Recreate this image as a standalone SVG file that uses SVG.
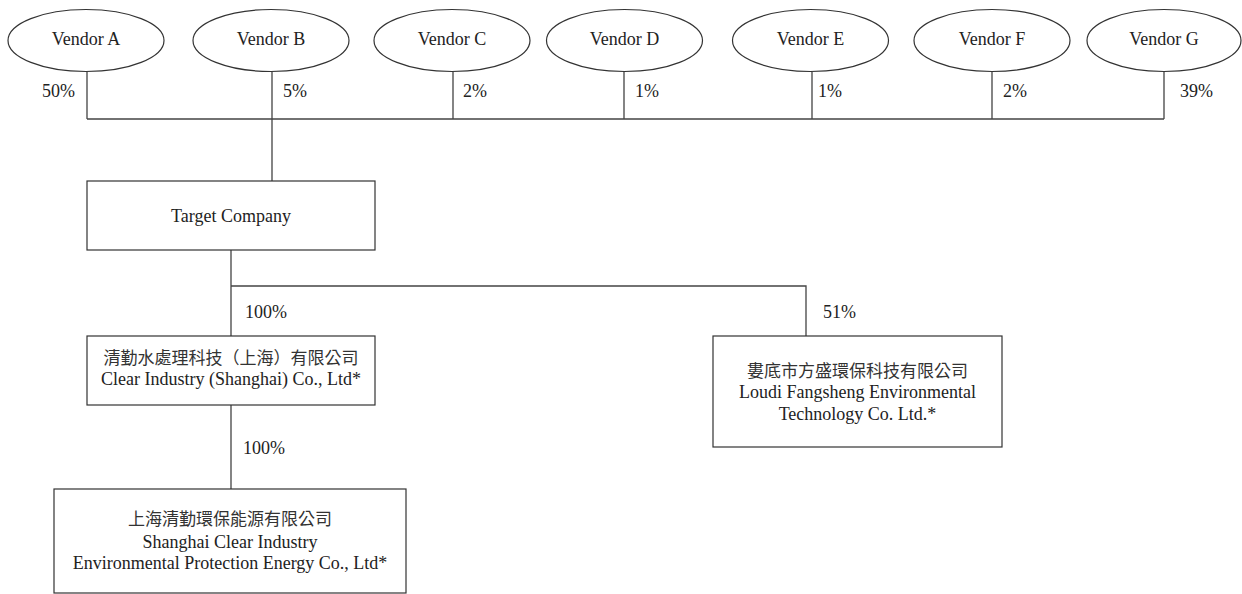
<svg xmlns="http://www.w3.org/2000/svg" width="1242" height="594" viewBox="0 0 1242 594">
<style>
.bg{fill:#fff}
.shape{fill:#fff;stroke:#333;stroke-width:1.2}
.line{fill:none;stroke:#444;stroke-width:1.3}
.t{font-family:"Liberation Serif","Noto Serif CJK TC","Noto Sans CJK TC",serif;font-size:18px;fill:#222}
.c{text-anchor:middle}
.cjk{font-family:"Noto Sans CJK TC","Noto Sans CJK SC",sans-serif;font-size:17px;fill:#333;text-anchor:middle}
</style>
<rect class="bg" x="0" y="0" width="1242" height="594"/>
<g id="connectors">
  <path class="line" d="M87 72V119M272 72V181M453 72V119M624 72V119M812 72V119M992 72V119M1164 72V119M87 119H1164"/>
  <path class="line" d="M231 250V336M231 286H806V336M231 405V489"/>
  <text class="t" x="42" y="97">50%</text>
  <text class="t" x="283" y="97">5%</text>
  <text class="t" x="463" y="97">2%</text>
  <text class="t" x="635" y="97">1%</text>
  <text class="t" x="818" y="97">1%</text>
  <text class="t" x="1003" y="97">2%</text>
  <text class="t" x="1180" y="97">39%</text>
  <text class="t" x="245" y="318">100%</text>
  <text class="t" x="823" y="318">51%</text>
  <text class="t" x="243" y="454">100%</text>
</g>
<g id="vendorA"><ellipse class="shape" cx="86" cy="40.5" rx="78" ry="31"/><text class="t c" x="86" y="45">Vendor A</text></g>
<g id="vendorB"><ellipse class="shape" cx="271" cy="40.5" rx="78" ry="31"/><text class="t c" x="271" y="45">Vendor B</text></g>
<g id="vendorC"><ellipse class="shape" cx="452" cy="40.5" rx="78" ry="31"/><text class="t c" x="452" y="45">Vendor C</text></g>
<g id="vendorD"><ellipse class="shape" cx="624.5" cy="40.5" rx="78" ry="31"/><text class="t c" x="624.5" y="45">Vendor D</text></g>
<g id="vendorE"><ellipse class="shape" cx="810.5" cy="40.5" rx="78" ry="31"/><text class="t c" x="810.5" y="45">Vendor E</text></g>
<g id="vendorF"><ellipse class="shape" cx="992" cy="40.5" rx="78" ry="31"/><text class="t c" x="992" y="45">Vendor F</text></g>
<g id="vendorG"><ellipse class="shape" cx="1164" cy="40.5" rx="77" ry="31"/><text class="t c" x="1164" y="45">Vendor G</text></g>
<g id="target"><rect class="shape" x="87" y="181" width="288" height="69"/><text class="t c" x="231" y="222">Target Company</text></g>
<g id="clearShanghai"><rect class="shape" x="87" y="336" width="288" height="69"/>
  <text class="cjk" x="231" y="364">清勤水處理科技（上海）有限公司</text>
  <text class="t c" x="231" y="385">Clear Industry (Shanghai) Co., Ltd*</text></g>
<g id="loudi"><rect class="shape" x="713" y="336" width="289" height="111"/>
  <text class="cjk" x="857.5" y="377">婁底市方盛環保科技有限公司</text>
  <text class="t c" x="857.5" y="398">Loudi Fangsheng Environmental</text>
  <text class="t c" x="857.5" y="420">Technology Co. Ltd.*</text></g>
<g id="shanghaiEnergy"><rect class="shape" x="54" y="489" width="352" height="104"/>
  <text class="cjk" x="230" y="525">上海清勤環保能源有限公司</text>
  <text class="t c" x="230" y="548">Shanghai Clear Industry</text>
  <text class="t c" x="230" y="569">Environmental Protection Energy Co., Ltd*</text></g>
</svg>
